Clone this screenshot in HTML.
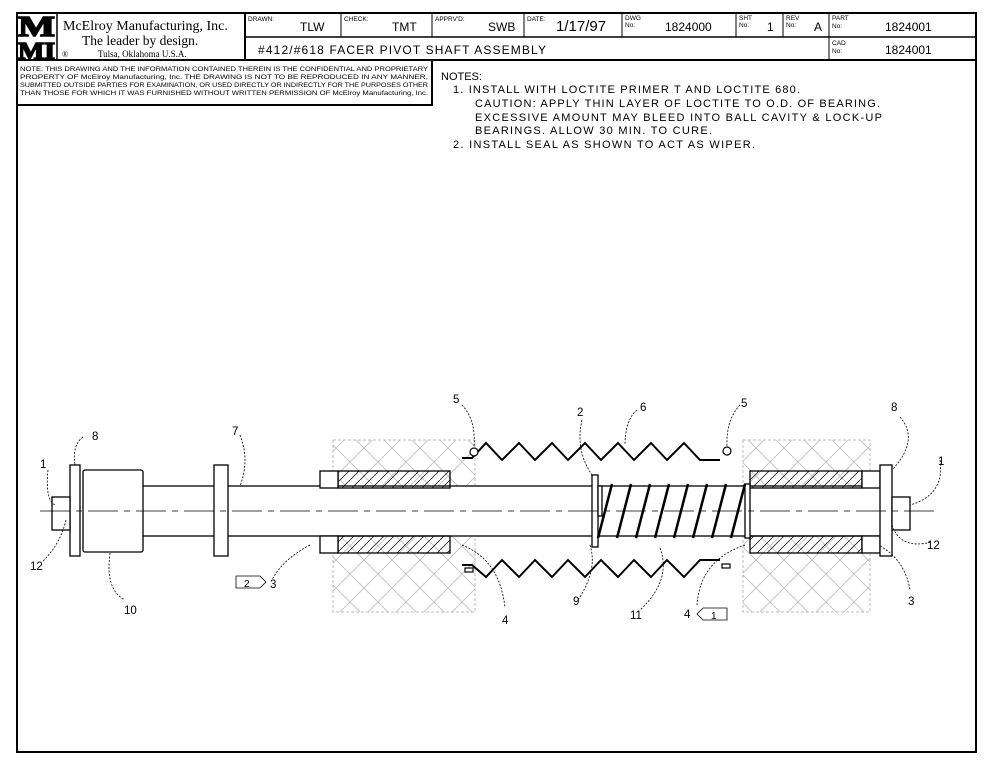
<!DOCTYPE html>
<html><head><meta charset="utf-8"><style>
html,body{margin:0;padding:0;background:#fff}
svg{display:block}
text{font-family:"Liberation Sans",sans-serif;fill:#000}
.s{font-family:"Liberation Serif",serif}
</style></head><body>
<svg width="993" height="768" viewBox="0 0 993 768" xmlns="http://www.w3.org/2000/svg">
<defs>
<pattern id="xh" width="28" height="28" patternUnits="userSpaceOnUse">
<path d="M0 0L28 28M28 0L0 28" stroke="#bbb" stroke-width="0.8"/>
</pattern>
<pattern id="dh" width="10" height="10" patternUnits="userSpaceOnUse">
<path d="M0 10L10 0" stroke="#000" stroke-width="0.7"/>
</pattern>
</defs>
<rect x="0" y="0" width="993" height="768" fill="#fff"/>
<rect x="17" y="13" width="959" height="739" fill="none" stroke="#000" stroke-width="2"/>
<line x1="17" y1="60" x2="976" y2="60" stroke="#000" stroke-width="2"/>
<line x1="57" y1="13" x2="57" y2="60" stroke="#000" stroke-width="1.5"/>
<line x1="245" y1="13" x2="245" y2="60" stroke="#000" stroke-width="2"/>
<line x1="245" y1="37" x2="976" y2="37" stroke="#000" stroke-width="1.5"/>
<g stroke="#000" stroke-width="1">
<line x1="341" y1="13" x2="341" y2="37"/><line x1="432" y1="13" x2="432" y2="37"/>
<line x1="524" y1="13" x2="524" y2="37"/><line x1="622" y1="13" x2="622" y2="37"/>
<line x1="736" y1="13" x2="736" y2="37"/><line x1="783" y1="13" x2="783" y2="37"/>
<line x1="829" y1="13" x2="829" y2="60"/>
</g>
<text x="18" y="36" class="s" font-size="28" font-weight="bold" stroke="#000" stroke-width="1.5" textLength="37" lengthAdjust="spacingAndGlyphs">M</text>
<text x="18" y="59" class="s" font-size="24" font-weight="bold" stroke="#000" stroke-width="1.5" textLength="37" lengthAdjust="spacingAndGlyphs">MI</text>
<text x="63" y="30" class="s" font-size="14">McElroy Manufacturing, Inc.</text>
<text x="82" y="45" class="s" font-size="13.5">The leader by design.</text>
<text x="62" y="57" class="s" font-size="8">®</text>
<text x="98" y="57" class="s" font-size="9">Tulsa, Oklahoma U.S.A.</text>
<g font-size="6.5"><text x="248" y="21">DRAWN:</text><text x="344" y="21">CHECK:</text><text x="435" y="21">APPRV'D:</text><text x="527" y="21">DATE:</text><text x="625" y="20">DWG</text><text x="625" y="27">No:</text><text x="739" y="20">SHT</text><text x="739" y="27">No:</text><text x="786" y="20">REV</text><text x="786" y="27">No:</text><text x="832" y="20">PART</text><text x="832" y="28">No:</text><text x="832" y="45">CAD</text><text x="832" y="53">No:</text></g>
<g font-size="12"><text x="300" y="31">TLW</text><text x="392" y="31">TMT</text><text x="488" y="31">SWB</text><text x="556" y="31" font-size="15">1/17/97</text><text x="665" y="31">1824000</text><text x="767" y="31">1</text><text x="814" y="31">A</text><text x="885" y="31">1824001</text><text x="885" y="54">1824001</text>
<text x="258" y="54" textLength="288" lengthAdjust="spacing">#412/#618 FACER PIVOT SHAFT ASSEMBLY</text></g>
<rect x="17" y="60" width="415" height="45" fill="none" stroke="#000" stroke-width="2"/>
<g font-size="6.1"><text x="20" y="71" textLength="408" lengthAdjust="spacingAndGlyphs">NOTE: THIS DRAWING AND THE INFORMATION CONTAINED THEREIN IS THE CONFIDENTIAL AND PROPRIETARY</text>
<text x="20" y="79" textLength="408" lengthAdjust="spacingAndGlyphs">PROPERTY OF McElroy Manufacturing, Inc. THE DRAWING IS NOT TO BE REPRODUCED IN ANY MANNER,</text>
<text x="20" y="87" textLength="408" lengthAdjust="spacingAndGlyphs">SUBMITTED OUTSIDE PARTIES FOR EXAMINATION, OR USED DIRECTLY OR INDIRECTLY FOR THE PURPOSES OTHER</text>
<text x="20" y="95" textLength="408" lengthAdjust="spacingAndGlyphs">THAN THOSE FOR WHICH IT WAS FURNISHED WITHOUT WRITTEN PERMISSION OF McElroy Manufacturing, Inc.</text></g>
<g font-size="11" fill="#222"><text x="441" y="80">NOTES:</text>
<text x="453" y="93" textLength="347" lengthAdjust="spacing">1.  INSTALL WITH LOCTITE PRIMER T AND LOCTITE 680.</text>
<text x="475" y="107" textLength="405" lengthAdjust="spacing">CAUTION: APPLY THIN LAYER OF LOCTITE TO O.D. OF BEARING.</text>
<text x="475" y="121" textLength="407" lengthAdjust="spacing">EXCESSIVE AMOUNT MAY BLEED INTO BALL CAVITY &amp; LOCK-UP</text>
<text x="475" y="134" textLength="237" lengthAdjust="spacing">BEARINGS. ALLOW 30 MIN. TO CURE.</text>
<text x="453" y="148" textLength="302" lengthAdjust="spacing">2.  INSTALL SEAL AS SHOWN TO ACT AS WIPER.</text></g>
<rect x="333" y="440" width="142" height="172" fill="url(#xh)" stroke="#bbb" stroke-dasharray="3 2"/>
<rect x="743" y="440" width="127" height="172" fill="url(#xh)" stroke="#bbb" stroke-dasharray="3 2"/>
<rect x="142" y="486" width="740" height="50" fill="#fff" stroke="#000" stroke-width="1.3"/>
<g stroke="#000" stroke-width="1.3">
<rect x="338" y="471" width="112" height="17" fill="url(#dh)"/>
<rect x="338" y="536" width="112" height="17" fill="url(#dh)"/>
<rect x="320" y="471" width="18" height="17" fill="#fff"/>
<rect x="320" y="536" width="18" height="17" fill="#fff"/>
<rect x="750" y="471" width="112" height="17" fill="url(#dh)"/>
<rect x="750" y="536" width="112" height="17" fill="url(#dh)"/>
<rect x="862" y="471" width="18" height="17" fill="#fff"/>
<rect x="862" y="536" width="18" height="17" fill="#fff"/>
<rect x="70" y="465" width="10" height="91" fill="#fff"/>
<rect x="83" y="470" width="60" height="82" fill="#fff" rx="2"/>
<rect x="52" y="497" width="18" height="33" fill="#fff"/>
<rect x="214" y="465" width="14" height="91" fill="#fff"/>
<rect x="880" y="465" width="12" height="91" fill="#fff"/>
<rect x="892" y="497" width="18" height="33" fill="#fff"/>
<rect x="592" y="475" width="6" height="72" fill="#fff"/>
<rect x="598" y="486" width="4" height="30" fill="#fff"/>
<rect x="745" y="484" width="5" height="54" fill="#fff"/>
</g>
<g stroke="#000" stroke-width="2.5">
<line x1="598" y1="538" x2="612" y2="484"/><line x1="617" y1="538" x2="631" y2="484"/><line x1="636" y1="538" x2="650" y2="484"/><line x1="655" y1="538" x2="669" y2="484"/><line x1="674" y1="538" x2="688" y2="484"/><line x1="693" y1="538" x2="707" y2="484"/><line x1="712" y1="538" x2="726" y2="484"/><line x1="731" y1="538" x2="745" y2="484"/>
</g>
<g fill="none" stroke="#000" stroke-width="2">
<polyline points="462,458 472,458 486,443 502,460 519,443 535,460 552,443 568,460 585,443 601,460 618,443 634,460 651,443 667,460 684,443 700,460 720,460"/>
<polyline points="462,565 472,565 486,577 502,560 519,577 535,560 552,577 568,560 585,577 601,560 618,577 634,560 651,577 667,560 684,577 700,560 720,560"/>
</g>
<g stroke="#000" stroke-width="1.2" fill="#fff">
<circle cx="474" cy="452" r="4"/><circle cx="727" cy="451" r="4"/>
<rect x="465" y="568" width="8" height="4"/><rect x="722" y="564" width="8" height="4"/>
</g>
<line x1="40" y1="511" x2="940" y2="511" stroke="#000" stroke-width="0.8" stroke-dasharray="30 6 6 6"/>
<g fill="none" stroke="#000" stroke-width="0.8" stroke-dasharray="2 1.5">
<path d="M48 470 Q45 500 55 505"/><path d="M83 437 Q72 445 75 465"/><path d="M66 520 Q60 545 42 562"/>
<path d="M110 553 Q105 590 125 600"/><path d="M240 435 Q250 460 240 486"/><path d="M310 545 Q282 560 272 580"/>
<path d="M462 405 Q476 420 474 446"/><path d="M740 405 Q726 420 727 446"/><path d="M582 420 Q575 450 592 475"/>
<path d="M637 410 Q625 420 625 445"/><path d="M462 545 Q500 560 505 608"/><path d="M590 545 Q598 570 578 600"/>
<path d="M660 548 Q672 580 640 610"/><path d="M745 545 Q700 560 697 605"/><path d="M900 417 Q920 440 892 470"/>
<path d="M940 460 Q945 495 910 505"/><path d="M892 525 Q900 550 932 542"/><path d="M880 546 Q905 560 910 590"/>
</g>
<g font-size="11.5" fill="#222">
<text x="40" y="468">1</text><text x="92" y="440">8</text><text x="30" y="570">12</text><text x="124" y="614">10</text>
<text x="232" y="435">7</text><text x="270" y="588">3</text><text x="453" y="403">5</text><text x="577" y="416">2</text>
<text x="640" y="411">6</text><text x="741" y="407">5</text><text x="891" y="411">8</text><text x="938" y="465">1</text>
<text x="927" y="549">12</text><text x="908" y="605">3</text><text x="502" y="624">4</text><text x="573" y="605">9</text>
<text x="630" y="619">11</text><text x="684" y="618">4</text>
</g>
<g fill="none" stroke="#000" stroke-width="0.8">
<path d="M236 576 H260 L266 582 L260 588 H236 Z"/>
<path d="M727 608 H703 L697 614 L703 620 H727 Z"/>
</g>
<text x="244" y="587" font-size="10">2</text><text x="711" y="619" font-size="10">1</text>
</svg>
</body></html>
